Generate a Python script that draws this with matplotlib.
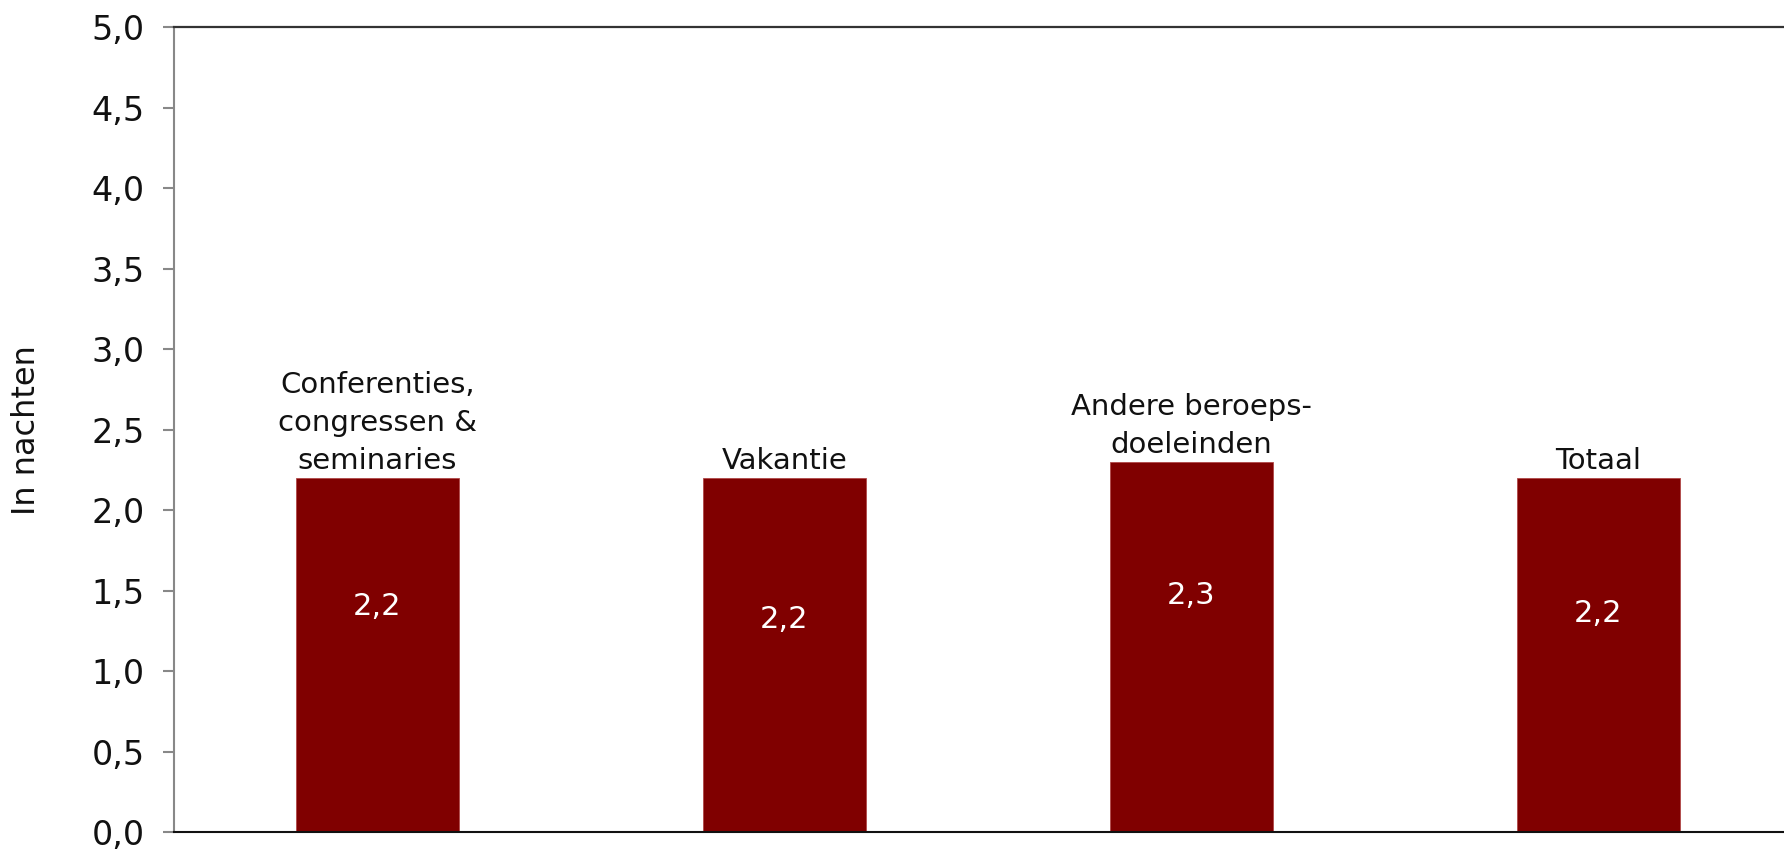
import matplotlib
matplotlib.use("Agg")
import matplotlib.pyplot as plt
from matplotlib.ticker import FuncFormatter, MultipleLocator

# ── Data ──────────────────────────────────────────────────────
categories = ["Conferenties,\ncongressen &\nseminaries", "Vakantie",
              "Andere beroeps-\ndoeleinden", "Totaal"]
values = [2.2, 2.2, 2.3, 2.2]
value_label_y = [1.40, 1.32, 1.47, 1.36]   # where the white value sits in each bar

BAR_COLOR = "#800000"

fig = plt.figure(figsize=(17.84, 8.49), dpi=100)
ax = fig.add_axes([0.0975, 0.02, 0.9025, 0.948])

x = range(len(categories))
ax.bar(x, values, width=0.40, color=BAR_COLOR, edgecolor="#b04848",
       linewidth=0.6, zorder=2)

for xi, v, ly, cat in zip(x, values, value_label_y, categories):
    ax.text(xi, ly, f"{v:.1f}".replace(".", ","), ha="center", va="center",
            color="white", fontsize=22, zorder=3)
    ax.annotate(cat, (xi, v), xytext=(0, 2), textcoords="offset points",
                ha="center", va="bottom", fontsize=21, linespacing=1.45,
                color="#111111")

ax.set_xlim(-0.5, 3.456)
ax.set_ylim(0, 5)
ax.yaxis.set_major_locator(MultipleLocator(0.5))
ax.yaxis.set_major_formatter(FuncFormatter(lambda v, _: f"{v:.1f}".replace(".", ",")))
ax.set_xticks([])
ax.tick_params(axis="y", direction="out", length=8, width=1.5, color="#888888",
               pad=13, labelsize=24, labelcolor="#111111")
ax.set_ylabel("In nachten", fontsize=23, color="#111111")
ax.yaxis.set_label_coords(-0.082, 0.5)

ax.spines["left"].set_color("#888888")
ax.spines["left"].set_linewidth(1.5)
ax.spines["bottom"].set_color("#111111")
ax.spines["bottom"].set_linewidth(1.5)
ax.spines["top"].set_color("#333333")
ax.spines["top"].set_linewidth(1.6)
ax.spines["right"].set_visible(False)

fig.savefig("out.png", dpi=100)
